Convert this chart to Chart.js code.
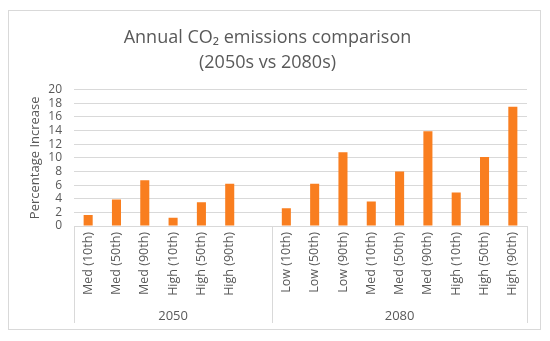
<!DOCTYPE html>
<html>
<head>
<meta charset="utf-8">
<script src="https://cdn.jsdelivr.net/npm/chart.js@4"></script>
<style>
  html, body { margin: 0; padding: 0; background: #fff; }
  #wrap { width: 550px; height: 341px; }
</style>
</head>
<body>
<div id="wrap"><canvas id="co2Chart"></canvas></div>
<script>
// categories (blank slot closes the 2050 group, like the original sheet)
const categories = [
  'Med (10th)', 'Med (50th)', 'Med (90th)', 'High (10th)', 'High (50th)', 'High (90th)', '',
  'Low (10th)', 'Low (50th)', 'Low (90th)', 'Med (10th)', 'Med (50th)', 'Med (90th)',
  'High (10th)', 'High (50th)', 'High (90th)'
];
const increases = [
  1.6, 3.9, 6.7, 1.2, 3.5, 6.2, null,
  2.6, 6.2, 10.8, 3.6, 8.0, 13.9, 4.9, 10.1, 17.5
];
const groupLabels = ['2050', '2080'];
const groupSizes = [7, 9];
const yTicks = [0, 2, 4, 6, 8, 10, 12, 14, 16, 18, 20];

const textGrey = '#595959';
const lineGrey = '#d9d9d9';

// outer frame + second level of the category axis
const groupAxis = {
  id: 'groupAxis',
  beforeDraw(chart) {
    const ctx = chart.ctx;
    ctx.save();
    ctx.strokeStyle = lineGrey;
    ctx.lineWidth = 1;
    ctx.strokeRect(8.5, 10.5, 532, 319);
    ctx.restore();
  },
  afterDraw(chart) {
    const ctx = chart.ctx;
    const x = chart.scales.x;
    const area = chart.chartArea;
    const slot = (area.right - area.left) / categories.length;
    ctx.save();
    ctx.strokeStyle = lineGrey;
    ctx.lineWidth = 1;
    ctx.fillStyle = textGrey;
    ctx.font = '13px "Open Sans"';
    ctx.textAlign = 'center';
    ctx.textBaseline = 'middle';
    let start = 0;
    const edges = [area.left];
    groupLabels.forEach((g, i) => {
      const end = start + groupSizes[i];
      const left = area.left + start * slot;
      const right = area.left + end * slot;
      edges.push(right);
      ctx.fillText(g, (left + right) / 2, x.bottom - 7);
      start = end;
    });
    edges.forEach(px => {
      const p = Math.round(px) + 0.5;
      ctx.beginPath();
      ctx.moveTo(p, area.bottom);
      ctx.lineTo(p, x.bottom);
      ctx.stroke();
    });
    ctx.restore();
  }
};

new Chart(document.getElementById('co2Chart'), {
  type: 'bar',
  data: {
    labels: categories,
    datasets: [{
      data: increases,
      backgroundColor: '#f97e1f',
      categoryPercentage: 1,
      barPercentage: 0.32
    }]
  },
  options: {
    responsive: true,
    maintainAspectRatio: false,
    animation: false,
    layout: { padding: { left: 8, top: 10, right: 23, bottom: 18 } },
    plugins: {
      legend: { display: false },
      tooltip: { enabled: false },
      title: {
        display: true,
        text: ['Annual CO₂ emissions comparison', '(2050s vs 2080s)'],
        color: textGrey,
        font: { family: 'Open Sans', size: 18, weight: 'normal', lineHeight: 1.35 },
        padding: { top: 16, bottom: 15 }
      }
    },
    scales: {
      x: {
        grid: { display: false, drawTicks: false },
        border: { color: lineGrey },
        ticks: {
          color: textGrey,
          font: { family: 'Open Sans', size: 12.5 },
          minRotation: 90,
          maxRotation: 90,
          autoSkip: false,
          padding: 6
        },
        afterFit(s) { s.height = 97; }
      },
      y: {
        min: 0,
        max: 20,
        afterBuildTicks(s) { s.ticks = yTicks.map(v => ({ value: v })); },
        grid: { color: lineGrey, drawTicks: false },
        border: { display: false },
        ticks: {
          color: textGrey,
          font: { family: 'Open Sans', size: 12 },
          autoSkip: false,
          padding: 12
        },
        title: {
          display: true,
          text: 'Percentage Increase',
          color: textGrey,
          font: { family: 'Open Sans', size: 13 },
          padding: { top: 19, bottom: 0 }
        },
        afterFit(s) { s.width = 66; }
      }
    }
  },
  plugins: [groupAxis]
});
</script>
</body>
</html>
